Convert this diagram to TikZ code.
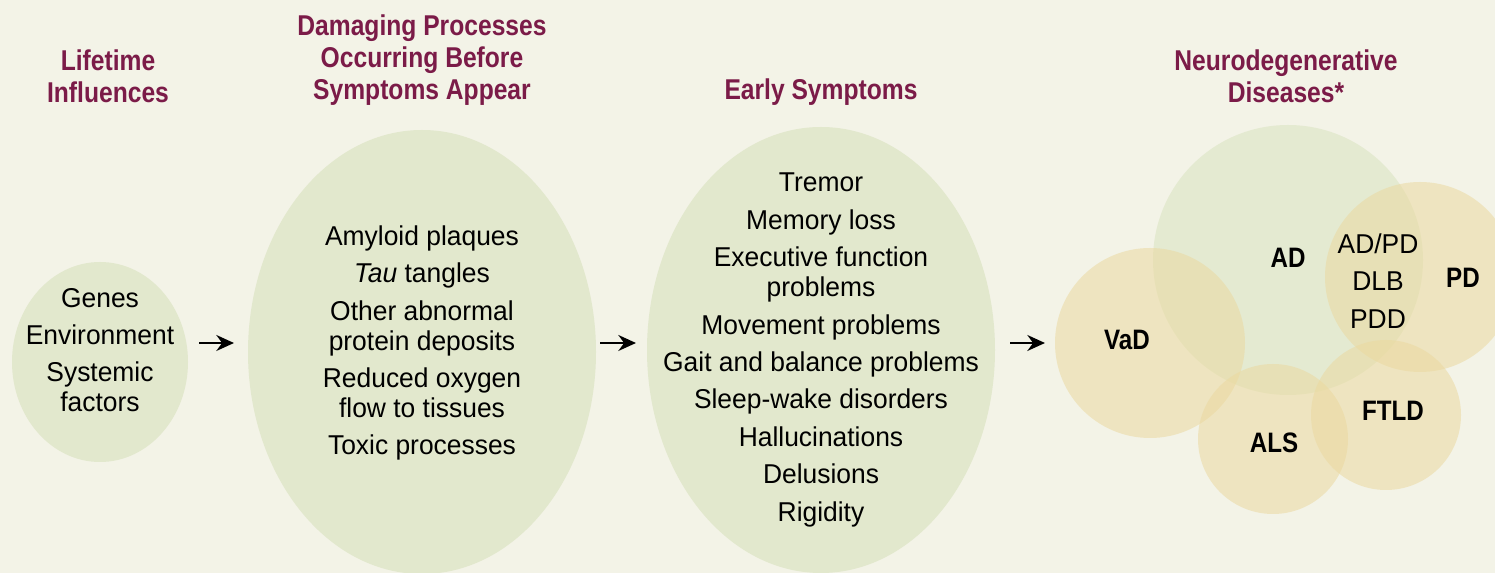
\documentclass[tikz,border=0pt]{standalone}
\usepackage{fontspec}
\setmainfont{Liberation Sans}[FakeStretch=0.97, BoldFeatures={FakeStretch=0.86}]
\usetikzlibrary{arrows.meta}

\definecolor{bgcream}{HTML}{F3F3E7}
\definecolor{stagegreen}{HTML}{E2E8CD}
\definecolor{adgreen}{HTML}{D9E3BF}
\definecolor{diseasetan}{HTML}{EBD9A0}
\definecolor{titlemaroon}{HTML}{7B1B48}

\tikzset{
  heading/.style={align=center, text=titlemaroon, font=\fontsize{16.3}{18.2}\selectfont\bfseries},
  itemlist/.style={align=center, font=\fontsize{15.5}{17}\selectfont},
  disease/.style={font=\fontsize{16}{17}\selectfont\bfseries},
  flow/.style={line width=1.7pt, -{Stealth[length=10pt,width=9pt]}}
}

\begin{document}
\begin{tikzpicture}[x=0.02cm, y=-0.02cm]

    % --- Background ---
    \fill[bgcream] (0,0) rectangle (1495,573);
    \useasboundingbox (0,0) rectangle (1495,573);

    % --- Stage ellipses ---
    \fill[stagegreen] (100,362) ellipse [x radius=88, y radius=100];
    \fill[stagegreen] (422,352) ellipse [x radius=174, y radius=222];
    \fill[stagegreen] (821,350) ellipse [x radius=174, y radius=223];

    % --- Disease circles ---
    \fill[adgreen, fill opacity=0.55] (1288,260) circle [radius=135];
    \fill[diseasetan, fill opacity=0.55] (1420,277) circle [radius=95];
    \fill[diseasetan, fill opacity=0.55] (1150,343) circle [radius=95];
    \fill[diseasetan, fill opacity=0.55] (1273,439) circle [radius=75];
    \fill[diseasetan, fill opacity=0.55] (1386,415) circle [radius=75];

    % --- Headings ---
    \node[heading] (hlife) at (108,76) {Lifetime\\Influences};
    \node[heading] (hdamage) at (422,60) {Damaging Processes\\Occurring Before\\Symptoms Appear};
    \node[heading] (hearly) at (821,92) {Early Symptoms};
    \node[heading] (hdisease) at (1286,76) {Neurodegenerative\\Diseases*};

    % --- Stage texts ---
    \node[itemlist] (life) at (100,350) {Genes\\[4.3pt] Environment\\[4.3pt] Systemic\\ factors};
    \node[itemlist] (damage) at (422,343) {Amyloid plaques\\[4.3pt] \textit{Tau} tangles\\[4.3pt]
      Other abnormal\\ protein deposits\\[4.3pt] Reduced oxygen\\ flow to tissues\\[4.3pt]
      Toxic processes};
    \node[itemlist] (early) at (821,350) {Tremor\\[4.3pt] Memory loss\\[4.3pt]
      Executive function\\ problems\\[4.3pt] Movement problems\\[4.3pt]
      Gait and balance problems\\[4.3pt] Sleep-wake disorders\\[4.3pt]
      Hallucinations\\[4.3pt] Delusions\\[4.3pt] Rigidity};

    % --- Disease labels ---
    \node[disease] (ad) at (1288,258) {AD};
    \node[disease] (pd) at (1463,278) {PD};
    \node[disease] (vad) at (1127,340) {VaD};
    \node[disease] (als) at (1274,443) {ALS};
    \node[disease] (ftld) at (1393,411) {FTLD};
    \node[itemlist] (overlap) at (1378,281) {AD/PD\\[4.3pt] DLB\\[4.3pt] PDD};

    % --- Arrow ends ---
    \coordinate (a1s) at (199,343);
    \coordinate (a1e) at (234,343);
    \coordinate (a2s) at (600,343);
    \coordinate (a2e) at (636,343);
    \coordinate (a3s) at (1010,343);
    \coordinate (a3e) at (1045,343);

    % --- Arrows ---
    \draw[flow] (a1s) -- (a1e);
    \draw[flow] (a2s) -- (a2e);
    \draw[flow] (a3s) -- (a3e);

\end{tikzpicture}
\end{document}
